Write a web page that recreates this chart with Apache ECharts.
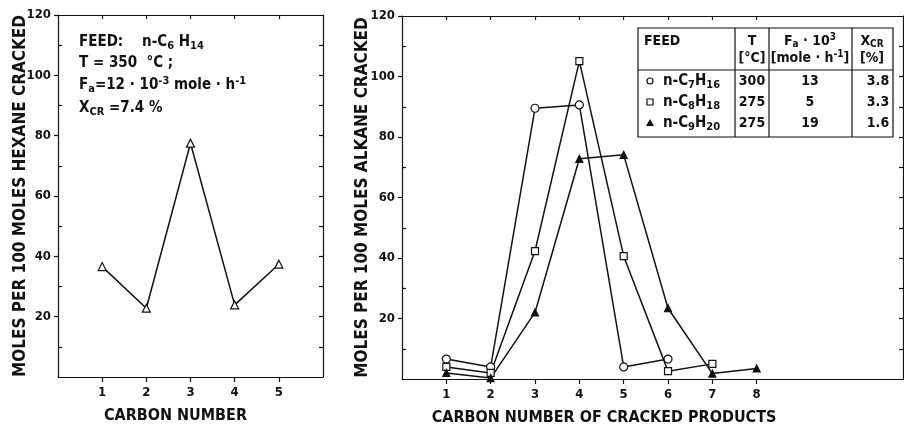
<!DOCTYPE html>
<html>
<head>
<meta charset="utf-8">
<script src="https://cdn.jsdelivr.net/npm/echarts@6/dist/echarts.min.js"></script>
<style>
  html, body { margin: 0; padding: 0; background: #fff; }
  #chart { width: 904px; height: 425px; }
</style>
</head>
<body>
<div id="chart"></div>
<script>
// Product distributions from cracking of n-alkanes

// Left panel: n-hexane feed
const hexaneCarbon = [1, 2, 3, 4, 5];
const hexaneMoles = [36.6, 22.8, 77.5, 23.9, 37.4];

// Right panel: heavier feeds
const heptaneCarbon = [1, 2, 3, 4, 5, 6];
const heptaneMoles = [6.6, 4.0, 89.5, 90.6, 4.0, 6.6];
const octaneCarbon = [1, 2, 3, 4, 5, 6, 7];
const octaneMoles = [4.0, 2.0, 42.3, 105.1, 40.6, 2.6, 5.0];
const nonaneCarbon = [1, 2, 3, 4, 5, 6, 7, 8];
const nonaneMoles = [2.0, 0.3, 22.0, 72.8, 74.1, 23.4, 1.8, 3.5];

// Axis ticks
const leftXTicks = [1, 2, 3, 4, 5];
const rightXTicks = [1, 2, 3, 4, 5, 6, 7, 8];
const yLabelValues = [20, 40, 60, 80, 100, 120];
const yMajorTicks = [20, 40, 60, 80, 100, 120];
const yMinorTicks = [10, 30, 50, 70, 90, 110];
const yAllTicks = [10, 20, 30, 40, 50, 60, 70, 80, 90, 100, 110];

// Feed conditions table
const feedCarbons = ['7', '8', '9'];
const feedHydrogens = ['16', '18', '20'];
const feedSymbols = ['circle', 'rect', 'triangle'];
const feedTemps = ['300', '275', '275'];
const feedRates = ['13', '5', '19'];
const feedConversions = ['3.8', '3.3', '1.6'];

const FONT = 'DejaVu Sans Condensed';
const INK = '#111';

const chart = echarts.init(document.getElementById('chart'), null, { renderer: 'canvas' });

const lineStyle = { color: INK, width: 1.2 };
const labelStyle = { fontFamily: FONT, fontWeight: 'bold', fontSize: 13, color: INK };
const yTitleStyle = { fontFamily: FONT, fontWeight: 'bold', fontSize: 17, color: INK };
const xTitleStyle = { fontFamily: FONT, fontWeight: 'bold', fontSize: 16, color: INK };

function xBottom(grid, max, ticks, name, shift) {
  return {
    gridIndex: grid, type: 'value', min: 0, max: max, position: 'bottom',
    axisLine: { show: true, onZero: false, lineStyle: lineStyle },
    axisTick: { show: true, inside: false, length: 5, customValues: ticks, lineStyle: lineStyle },
    axisLabel: Object.assign({ customValues: ticks, margin: 9 }, labelStyle),
    splitLine: { show: false },
    name: name, nameLocation: 'middle', nameGap: 31,
    nameTextStyle: Object.assign({ padding: [0, shift, 0, 0] }, xTitleStyle)
  };
}
function xTop(grid, max, ticks) {
  return {
    gridIndex: grid, type: 'value', min: 0, max: max, position: 'top',
    axisLine: { show: true, onZero: false, lineStyle: lineStyle },
    axisTick: { show: true, inside: true, length: 4, customValues: ticks, lineStyle: lineStyle },
    axisLabel: { show: false }, splitLine: { show: false }
  };
}
function yLeft(grid, name, gap) {
  return {
    gridIndex: grid, type: 'value', min: 0, max: 120, position: 'left',
    axisLine: { show: true, onZero: false, lineStyle: lineStyle },
    axisTick: { show: true, inside: false, length: 4, customValues: yMajorTicks, lineStyle: lineStyle },
    axisLabel: Object.assign({ customValues: yLabelValues, margin: 7 }, labelStyle),
    splitLine: { show: false },
    name: name, nameLocation: 'middle', nameGap: gap, nameRotate: 90,
    nameMoveOverlap: false,
    nameTextStyle: yTitleStyle
  };
}
function yLeftMinor(grid) {
  return {
    gridIndex: grid, type: 'value', min: 0, max: 120, position: 'left',
    axisLine: { show: false },
    axisTick: { show: true, inside: true, length: 4, customValues: yMinorTicks, lineStyle: lineStyle },
    axisLabel: { show: false }, splitLine: { show: false }
  };
}
function yRight(grid) {
  return {
    gridIndex: grid, type: 'value', min: 0, max: 120, position: 'right',
    axisLine: { show: true, onZero: false, lineStyle: lineStyle },
    axisTick: { show: true, inside: true, length: 4, customValues: yAllTicks, lineStyle: lineStyle },
    axisLabel: { show: false }, splitLine: { show: false }
  };
}

function pairs(xs, ys) { return xs.map((x, i) => [x, ys[i]]); }

function series(xIdx, yIdx, xs, ys, symbol, filled, size) {
  return {
    type: 'line', xAxisIndex: xIdx, yAxisIndex: yIdx,
    data: pairs(xs, ys),
    symbol: symbol, symbolSize: size, showAllSymbol: true,
    lineStyle: { color: INK, width: 1.5 },
    itemStyle: { color: filled ? INK : '#fff', borderColor: INK, borderWidth: 1.2 },
    emphasis: { disabled: true }, animation: false, z: 3
  };
}

// Rich text styles for sub- and superscripts
function richSet(size) {
  const small = Math.round(size * 0.72);
  return {
    s: { fontFamily: FONT, fontWeight: 'bold', fontSize: small, color: INK, padding: [Math.round(size * 0.5), 0, 0, 0] },
    p: { fontFamily: FONT, fontWeight: 'bold', fontSize: small, color: INK, padding: [0, 0, Math.round(size * 0.5), 0] },
    n: { fontFamily: FONT, fontWeight: 'bold', fontSize: size, color: INK }
  };
}
function txt(x, y, text, align, size) {
  const fs = size || 14;
  return {
    type: 'text', x: x, y: y, z: 10,
    style: {
      text: text, fontFamily: FONT, fontWeight: 'bold', fontSize: fs, fill: INK,
      align: align || 'left', verticalAlign: 'middle', rich: richSet(fs)
    }
  };
}

const annotation = [
  txt(79, 42, '{n|FEED:    n-C}{s|6}{n| H}{s|14}', 'left', 15),
  txt(79, 63, '{n|T = 350  °C ;}', 'left', 15),
  txt(79, 85, '{n|F}{s|a}{n|=12 · 10}{p|-3}{n| mole · h}{p|-1}', 'left', 15),
  txt(79, 108, '{n|X}{s|CR}{n| =7.4 %}', 'left', 15)
];

// Conditions table geometry
const T = { x0: 638, x1: 735, x2: 769, x3: 852, x4: 893, y0: 28, yh: 70, y1: 137 };
const rowY = [81, 102, 123];
const tableEls = [
  { type: 'rect', shape: { x: T.x0, y: T.y0, width: T.x4 - T.x0, height: T.y1 - T.y0 },
    style: { fill: '#fff', stroke: INK, lineWidth: 1.2 }, z: 9 },
  { type: 'line', shape: { x1: T.x0, y1: T.yh, x2: T.x4, y2: T.yh }, style: { stroke: INK, lineWidth: 1.2 }, z: 10 },
  { type: 'line', shape: { x1: T.x1, y1: T.y0, x2: T.x1, y2: T.y1 }, style: { stroke: INK, lineWidth: 1.2 }, z: 10 },
  { type: 'line', shape: { x1: T.x2, y1: T.y0, x2: T.x2, y2: T.y1 }, style: { stroke: INK, lineWidth: 1.2 }, z: 10 },
  { type: 'line', shape: { x1: T.x3, y1: T.y0, x2: T.x3, y2: T.y1 }, style: { stroke: INK, lineWidth: 1.2 }, z: 10 },
  txt(644, 41, '{n|FEED}'),
  txt(752, 41, '{n|T}', 'center'),
  txt(752, 58, '{n|[°C]}', 'center'),
  txt(810, 41, '{n|F}{s|a}{n| · 10}{p|3}', 'center'),
  txt(810, 58, '{n|[mole · h}{p|-1}{n|]}', 'center'),
  txt(872, 41, '{n|X}{s|CR}', 'center'),
  txt(872, 58, '{n|[%]}', 'center')
];
feedCarbons.forEach((c, i) => {
  const y = rowY[i];
  const sym = feedSymbols[i];
  if (sym === 'circle') {
    tableEls.push({ type: 'circle', shape: { cx: 650, cy: y, r: 3 }, style: { fill: '#fff', stroke: INK, lineWidth: 1.2 }, z: 10 });
  } else if (sym === 'rect') {
    tableEls.push({ type: 'rect', shape: { x: 647, y: y - 3, width: 6, height: 6 }, style: { fill: '#fff', stroke: INK, lineWidth: 1.2 }, z: 10 });
  } else {
    tableEls.push({ type: 'polygon', shape: { points: [[650, y - 4], [654, y + 3], [646, y + 3]] }, style: { fill: INK }, z: 10 });
  }
  tableEls.push(txt(663, y, '{n|n-C}{s|' + c + '}{n|H}{s|' + feedHydrogens[i] + '}', 'left', 15));
  tableEls.push(txt(752, y, '{n|' + feedTemps[i] + '}', 'center'));
  tableEls.push(txt(810, y, '{n|' + feedRates[i] + '}', 'center'));
  tableEls.push(txt(878, y, '{n|' + feedConversions[i] + '}', 'center'));
});

const option = {
  backgroundColor: '#fff',
  animation: false,
  grid: [
    { left: 58, top: 15, width: 265, height: 362, outerBoundsMode: 'none', containLabel: false },
    { left: 402, top: 16, width: 501, height: 363, outerBoundsMode: 'none', containLabel: false }
  ],
  xAxis: [
    xBottom(0, 6, leftXTicks, 'CARBON NUMBER', 30),
    xTop(0, 6, leftXTicks),
    xBottom(1, 11.3, rightXTicks, 'CARBON NUMBER OF CRACKED PRODUCTS', 97),
    xTop(1, 11.3, rightXTicks)
  ],
  yAxis: [
    yLeft(0, 'MOLES PER 100 MOLES HEXANE CRACKED', 29),
    yLeftMinor(0),
    yRight(0),
    yLeft(1, 'MOLES PER 100 MOLES ALKANE CRACKED', 31),
    yLeftMinor(1),
    yRight(1)
  ],
  series: [
    series(0, 0, hexaneCarbon, hexaneMoles, 'triangle', false, 8),
    series(2, 3, heptaneCarbon, heptaneMoles, 'circle', false, 8),
    series(2, 3, octaneCarbon, octaneMoles, 'rect', false, 7),
    series(2, 3, nonaneCarbon, nonaneMoles, 'triangle', true, 7)
  ],
  graphic: annotation.concat(tableEls)
};

chart.setOption(option);
</script>
</body>
</html>
